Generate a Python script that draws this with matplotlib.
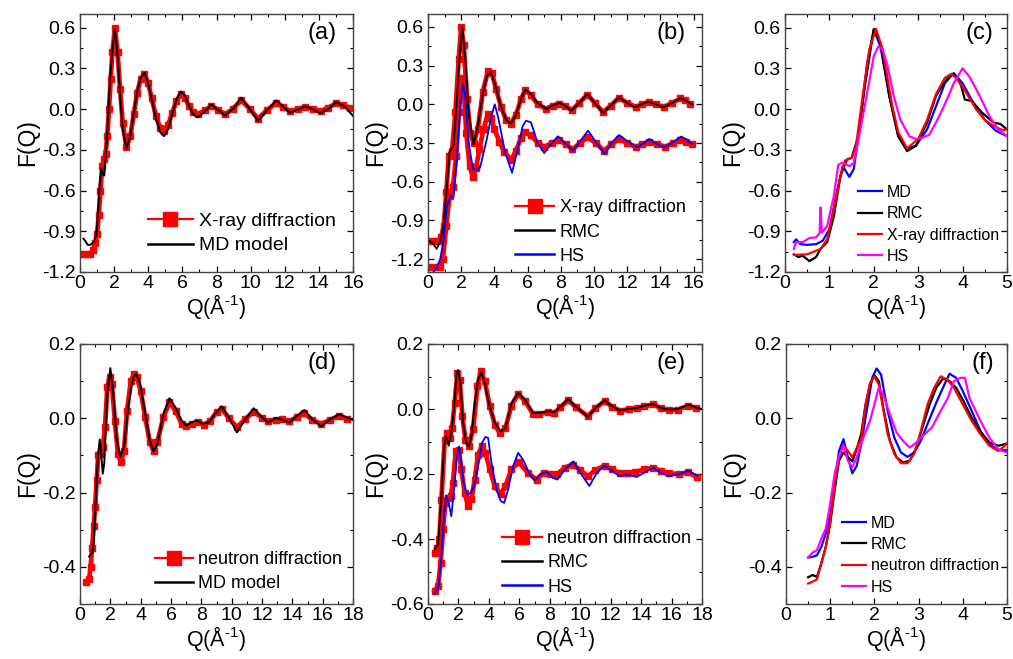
import matplotlib
matplotlib.use("Agg")
import matplotlib.pyplot as plt
from matplotlib.lines import Line2D
from matplotlib.ticker import MultipleLocator, FormatStrFormatter

plt.rcParams['font.family'] = ['Liberation Sans', 'DejaVu Sans']
plt.rcParams['mathtext.fontset'] = 'custom'
plt.rcParams['mathtext.rm'] = 'Liberation Sans'
plt.rcParams['mathtext.default'] = 'regular'

# ---- panel (a): X-ray diffraction vs MD model ----
q_a_xray = [0.05, 0.3, 0.6, 0.75, 0.9, 1.0, 1.1, 1.2, 1.3, 1.4, 1.5, 1.6, 1.7, 1.8, 1.9, 2.05, 2.2, 2.35, 2.5,
            2.72, 2.95, 3.15, 3.35, 3.55, 3.78, 4.0, 4.2, 4.45, 4.7, 4.9, 5.15, 5.4, 5.65, 5.9, 6.15, 6.4, 6.65,
            6.9, 7.3, 7.7, 8.1, 8.5, 8.95, 9.45, 9.95, 10.43, 10.95, 11.5, 11.9, 12.3, 12.75, 13.2, 13.65, 14.1,
            14.55, 15.0, 15.4, 15.8]
f_a_xray = [-1.065, -1.07, -1.065, -1.04, -0.99, -0.92, -0.78, -0.6, -0.42, -0.37, -0.33, -0.2, 0.0, 0.22, 0.42,
            0.6, 0.42, 0.15, -0.1, -0.28, -0.2, -0.04, 0.12, 0.22, 0.255, 0.19, 0.08, -0.05, -0.14, -0.16, -0.12,
            -0.03, 0.06, 0.108, 0.08, 0.02, -0.025, -0.04, -0.01, 0.022, -0.005, -0.04, 0.0, 0.066, 0.0, -0.07,
            -0.01, 0.047, 0.015, -0.015, 0.0, 0.017, 0.0, -0.015, 0.01, 0.042, 0.03, 0.01]
q_a_md = [0.2, 0.3, 0.45, 0.6, 0.8, 0.95, 1.05, 1.15, 1.25, 1.35, 1.42, 1.5, 1.6, 1.75, 1.9, 2.05, 2.2, 2.35, 2.5,
          2.72, 2.95, 3.15, 3.35, 3.55, 3.78, 4.0, 4.2, 4.45, 4.7, 4.92, 5.15, 5.4, 5.65, 5.9, 6.15, 6.4, 6.65,
          6.9, 7.3, 7.7, 8.1, 8.48, 8.95, 9.45, 9.95, 10.43, 10.95, 11.5, 11.9, 12.3, 12.75, 13.22, 13.65, 14.08,
          14.55, 15.02, 15.5, 16.0]
f_a_md = [-0.955, -0.97, -1.0, -1.0, -0.98, -0.93, -0.78, -0.56, -0.44, -0.48, -0.49, -0.35, -0.17, 0.2, 0.44,
          0.59, 0.39, 0.1, -0.15, -0.29, -0.2, -0.03, 0.13, 0.23, 0.267, 0.19, 0.07, -0.07, -0.17, -0.2, -0.15,
          -0.04, 0.07, 0.13, 0.1, 0.02, -0.04, -0.06, -0.02, 0.034, -0.005, -0.047, 0.0, 0.083, 0.0, -0.088,
          -0.01, 0.064, 0.02, -0.027, -0.005, 0.022, -0.002, -0.032, 0.0, 0.051, 0.02, -0.05]

# ---- panel (b): X-ray, RMC, HS ----
q_b_xray = [0.0, 0.3, 0.6, 0.8, 0.95, 1.1, 1.25, 1.45, 1.65, 1.85, 2.0, 2.15, 2.35, 2.55, 2.75, 3.0, 3.3, 3.6,
            3.85, 4.1, 4.4, 4.7, 4.99, 5.3, 5.6, 5.86, 6.2, 6.6, 7.1, 7.5, 7.9, 8.25, 8.65, 9.1, 9.6, 10.05,
            10.55, 11.0, 11.5, 12.0, 12.5, 12.9, 13.3, 13.7, 14.2, 14.7, 15.2, 15.5, 15.8]
f_b_xray = [-1.063, -1.063, -1.06, -1.03, -0.94, -0.68, -0.4, -0.36, -0.06, 0.35, 0.6, 0.46, 0.04, -0.22, -0.3,
            -0.19, 0.095, 0.255, 0.24, 0.12, -0.02, -0.12, -0.15, -0.08, 0.04, 0.11, 0.07, 0.0, -0.035, -0.01,
            0.005, -0.015, -0.045, 0.01, 0.075, 0.01, -0.06, -0.01, 0.05, 0.01, -0.02, 0.0, 0.02, 0.0, -0.02,
            0.01, 0.045, 0.03, 0.0]
q_b_rmc = [0.1, 0.3, 0.52, 0.72, 0.94, 1.14, 1.3, 1.54, 1.74, 1.86, 2.06, 2.26, 2.46, 2.74, 3.0, 3.3, 3.55, 3.78,
           4.05, 4.35, 4.7, 4.99, 5.3, 5.6, 5.86, 6.2, 6.6, 7.15, 7.5, 7.92, 8.25, 8.63, 9.1, 9.58, 10.05, 10.55,
           11.0, 11.5, 12.0, 12.46, 12.85, 13.27, 13.7, 14.18, 14.7, 15.2, 15.5, 15.9]
f_b_rmc = [-1.06, -1.08, -1.12, -1.07, -0.94, -0.63, -0.37, -0.32, 0.04, 0.3, 0.6, 0.33, -0.09, -0.31, -0.17,
           0.08, 0.22, 0.25, 0.15, 0.0, -0.12, -0.15, -0.08, 0.04, 0.114, 0.08, 0.01, -0.036, -0.01, 0.01, -0.01,
           -0.05, 0.01, 0.08, 0.01, -0.067, -0.01, 0.054, 0.01, -0.023, 0.0, 0.02, 0.0, -0.023, 0.01, 0.047,
           0.03, 0.0]
q_b_xray2 = [0.0, 0.4, 0.75, 0.9, 1.1, 1.3, 1.5, 1.7, 1.85, 2.0, 2.15, 2.3, 2.5, 2.7, 2.9, 3.1, 3.35, 3.6, 3.8,
             4.0, 4.3, 4.6, 5.0, 5.3, 5.6, 5.86, 6.2, 6.6, 7.0, 7.45, 7.9, 8.3, 8.7, 9.15, 9.6, 10.1, 10.6,
             11.05, 11.5, 12.0, 12.5, 12.9, 13.3, 13.8, 14.3, 14.75, 15.2, 15.55, 15.9]
f_b_xray2 = [-1.265, -1.265, -1.26, -1.2, -0.94, -0.71, -0.64, -0.4, -0.06, 0.2, 0.15, -0.22, -0.475, -0.565,
             -0.49, -0.345, -0.19, -0.075, -0.11, -0.19, -0.29, -0.37, -0.43, -0.36, -0.26, -0.217, -0.24, -0.3,
             -0.33, -0.3, -0.28, -0.31, -0.35, -0.3, -0.256, -0.3, -0.36, -0.31, -0.27, -0.3, -0.33, -0.31,
             -0.29, -0.31, -0.33, -0.3, -0.28, -0.29, -0.31]
q_b_hs = [0.2, 0.5, 0.74, 0.94, 1.14, 1.38, 1.54, 1.74, 1.94, 2.1, 2.24, 2.44, 2.7, 2.94, 3.14, 3.54, 3.78, 4.02,
          4.24, 4.64, 5.06, 5.4, 5.7, 5.9, 6.2, 6.6, 7.0, 7.4, 7.82, 8.25, 8.73, 9.2, 9.64, 10.15, 10.65, 11.05,
          11.5, 12.05, 12.6, 13.0, 13.33, 13.8, 14.2, 14.7, 15.23, 15.55, 15.9]
f_b_hs = [-1.32, -1.27, -1.2, -1.045, -0.786, -0.71, -0.72, -0.42, -0.035, 0.16, 0.07, -0.29, -0.5, -0.51,
          -0.49, -0.27, -0.11, 0.0, -0.11, -0.37, -0.53, -0.35, -0.17, -0.127, -0.14, -0.3, -0.378, -0.31,
          -0.248, -0.3, -0.36, -0.28, -0.204, -0.3, -0.385, -0.3, -0.238, -0.29, -0.334, -0.3, -0.269, -0.31,
          -0.334, -0.3, -0.25, -0.27, -0.308]

# ---- panel (c): low-Q detail, X-ray ----
q_c_md = [0.2, 0.25, 0.35, 0.5, 0.7, 0.85, 1.0, 1.15, 1.3, 1.45, 1.55, 1.7, 1.85, 2.0, 2.15, 2.35, 2.55, 2.75,
          2.95, 3.2, 3.4, 3.6, 3.8, 4.0, 4.2, 4.5, 4.75, 5.0]
f_c_md = [-0.98, -0.96, -0.995, -1.0, -0.995, -0.97, -0.885, -0.64, -0.42, -0.5, -0.44, -0.08, 0.34, 0.585,
          0.46, 0.095, -0.2, -0.29, -0.27, -0.15, 0.02, 0.19, 0.265, 0.19, 0.07, -0.08, -0.16, -0.2]
q_c_rmc = [0.2, 0.3, 0.4, 0.55, 0.7, 0.8, 0.95, 1.1, 1.25, 1.4, 1.5, 1.65, 1.8, 2.0, 2.15, 2.35, 2.55, 2.75,
           2.95, 3.2, 3.4, 3.55, 3.7, 3.8, 3.95, 4.05, 4.2, 4.45, 4.7, 4.85, 5.0]
f_c_rmc = [-1.07, -1.09, -1.08, -1.12, -1.09, -1.03, -0.98, -0.79, -0.49, -0.37, -0.36, -0.2, 0.17, 0.59, 0.49,
           0.095, -0.2, -0.31, -0.27, -0.1, 0.095, 0.18, 0.24, 0.255, 0.19, 0.07, 0.06, -0.03, -0.1, -0.11,
           -0.15]
q_c_xray = [0.2, 0.5, 0.8, 0.95, 1.1, 1.25, 1.35, 1.5, 1.6, 1.75, 1.9, 2.05, 2.2, 2.4, 2.55, 2.75, 3.0, 3.2,
            3.4, 3.6, 3.75, 3.9, 4.1, 4.3, 4.5, 4.7, 4.9, 5.0]
f_c_xray = [-1.074, -1.07, -1.03, -0.96, -0.74, -0.49, -0.38, -0.36, -0.27, 0.095, 0.44, 0.59, 0.44, 0.05,
            -0.17, -0.29, -0.22, -0.08, 0.11, 0.23, 0.26, 0.21, 0.11, 0.0, -0.08, -0.125, -0.155, -0.15]
q_c_hs = [0.2, 0.25, 0.4, 0.55, 0.7, 0.78, 0.8, 0.83, 0.95, 1.1, 1.2, 1.3, 1.45, 1.55, 1.7, 1.85, 2.0, 2.1, 2.2,
          2.3, 2.45, 2.6, 2.8, 2.95, 3.1, 3.25, 3.4, 3.55, 3.7, 3.8, 4.0, 4.15, 4.35, 4.6, 4.8, 5.0]
f_c_hs = [-1.03, -0.98, -0.98, -0.95, -0.945, -0.915, -0.725, -0.91, -0.86, -0.64, -0.41, -0.395, -0.42,
          -0.395, -0.15, 0.12, 0.39, 0.46, 0.44, 0.33, 0.095, -0.08, -0.2, -0.22, -0.21, -0.19, -0.1, 0.0, 0.11,
          0.19, 0.3, 0.24, 0.12, -0.05, -0.15, -0.2]

# ---- panel (d): neutron diffraction vs MD model ----
q_d_neu = [0.4, 0.6, 0.7, 0.8, 0.9, 1.0, 1.1, 1.2, 1.35, 1.5, 1.65, 1.8, 1.95, 2.1, 2.3, 2.5, 2.7, 2.9, 3.1,
           3.35, 3.55, 3.75, 4.0, 4.3, 4.6, 4.85, 5.1, 5.5, 5.9, 6.3, 6.7, 7.0, 7.4, 7.8, 8.2, 8.6, 9.0, 9.35,
           9.8, 10.35, 10.9, 11.45, 12.0, 12.4, 12.9, 13.3, 13.8, 14.3, 14.8, 15.3, 15.9, 16.5, 17.1, 17.6]
f_d_neu = [-0.44, -0.433, -0.4, -0.35, -0.29, -0.238, -0.167, -0.1, -0.095, -0.078, -0.024, 0.083, 0.112, 0.092,
           -0.006, -0.096, -0.118, -0.087, 0.02, 0.1, 0.119, 0.112, 0.074, 0.003, -0.064, -0.087, -0.064, 0.003,
           0.043, 0.02, -0.015, -0.022, -0.015, -0.011, -0.017, -0.006, 0.016, 0.025, 0.001, -0.024, -0.002,
           0.018, 0.001, -0.008, -0.004, -0.002, -0.008, 0.003, 0.013, -0.004, -0.015, -0.004, 0.007, -0.002]
q_d_md = [0.6, 0.8, 0.9, 1.0, 1.1, 1.2, 1.3, 1.4, 1.5, 1.6, 1.8, 2.0, 2.2, 2.4, 2.65, 2.9, 3.2, 3.5, 3.7, 3.95,
          4.3, 4.6, 4.85, 5.1, 5.5, 5.9, 6.3, 6.7, 7.0, 7.35, 7.7, 8.1, 8.5, 8.9, 9.35, 9.8, 10.35, 10.9, 11.45,
          12.0, 12.4, 12.9, 13.2, 13.8, 14.3, 14.8, 15.3, 15.9, 16.5, 17.1, 18.0]
f_d_md = [-0.372, -0.363, -0.337, -0.256, -0.167, -0.096, -0.057, -0.096, -0.149, -0.122, 0.065, 0.135, 0.065,
          -0.051, -0.104, -0.078, 0.038, 0.11, 0.119, 0.096, 0.012, -0.06, -0.089, -0.069, 0.012, 0.054, 0.029,
          -0.006, -0.02, -0.011, -0.006, -0.015, -0.011, 0.012, 0.032, 0.003, -0.038, -0.002, 0.027, 0.003,
          -0.011, 0.001, -0.002, -0.011, 0.007, 0.022, -0.002, -0.022, -0.002, 0.011, -0.005]

# ---- panel (e): neutron, RMC, HS ----
q_e_neu = [0.44, 0.62, 0.75, 0.88, 1.1, 1.27, 1.43, 1.58, 1.75, 1.93, 2.08, 2.26, 2.46, 2.68, 2.96, 3.25, 3.46,
           3.73, 4.06, 4.39, 4.71, 5.09, 5.48, 5.92, 6.36, 6.9, 7.3, 7.9, 8.3, 8.7, 9.2, 9.7, 10.5, 11.0, 11.6,
           12.1, 12.6, 13.2, 13.7, 14.2, 14.8, 15.3, 15.8, 16.4, 17.1, 17.6]
f_e_neu = [-0.442, -0.427, -0.4, -0.28, -0.094, -0.074, -0.089, -0.058, 0.018, 0.11, 0.09, -0.023, -0.094,
           -0.113, -0.063, 0.07, 0.116, 0.085, 0.008, -0.048, -0.074, -0.058, 0.01, 0.047, 0.025, -0.015,
           -0.015, -0.01, -0.012, 0.005, 0.027, 0.006, -0.022, 0.002, 0.024, 0.007, -0.005, -0.001, 0.002,
           0.008, 0.014, 0.002, -0.004, -0.002, 0.01, 0.003]
q_e_rmc = [0.44, 0.66, 0.88, 1.05, 1.2, 1.36, 1.53, 1.71, 1.86, 1.97, 2.13, 2.3, 2.52, 2.68, 2.85, 3.07, 3.29,
           3.5, 3.73, 3.99, 4.39, 4.78, 5.09, 5.48, 5.92, 6.36, 6.9, 7.3, 7.9, 8.3, 8.7, 9.2, 9.7, 10.5, 11.0,
           11.6, 12.1, 12.6, 13.2, 13.7, 14.2, 14.8, 15.3, 15.8, 16.4, 17.1, 17.6, 18.0]
f_e_rmc = [-0.43, -0.417, -0.27, -0.115, -0.084, -0.113, -0.074, 0.0, 0.105, 0.12, 0.08, -0.043, -0.106, -0.115,
           -0.084, 0.018, 0.09, 0.113, 0.08, 0.018, -0.043, -0.069, -0.058, 0.018, 0.049, 0.029, -0.012, -0.012,
           -0.007, -0.01, 0.008, 0.031, 0.008, -0.025, 0.003, 0.027, 0.008, -0.004, 0.0, 0.003, 0.01, 0.016,
           0.003, -0.002, 0.0, 0.013, 0.005, 0.0]
q_e_neu2 = [0.44, 0.66, 0.83, 0.99, 1.14, 1.32, 1.49, 1.64, 1.82, 2.02, 2.19, 2.41, 2.63, 2.85, 3.07, 3.29, 3.55,
            3.77, 4.06, 4.39, 4.78, 5.09, 5.48, 5.96, 6.58, 7.13, 7.6, 8.0, 8.5, 9.0, 9.5, 10.0, 10.5, 11.0,
            11.6, 12.1, 12.6, 13.1, 13.6, 14.2, 14.8, 15.3, 15.8, 16.5, 17.1, 17.7]
f_e_neu2 = [-0.56, -0.545, -0.473, -0.37, -0.289, -0.273, -0.268, -0.227, -0.13, -0.125, -0.186, -0.258,
            -0.299, -0.278, -0.217, -0.14, -0.113, -0.135, -0.186, -0.237, -0.263, -0.237, -0.186, -0.164,
            -0.197, -0.217, -0.196, -0.2, -0.2, -0.18, -0.171, -0.188, -0.207, -0.188, -0.174, -0.186, -0.198,
            -0.196, -0.194, -0.186, -0.181, -0.191, -0.198, -0.2, -0.195, -0.21]
q_e_hs = [0.44, 0.7, 0.88, 1.05, 1.2, 1.36, 1.53, 1.71, 1.91, 2.04, 2.19, 2.37, 2.59, 2.81, 3.07, 3.29, 3.55,
          3.77, 3.95, 4.17, 4.5, 4.78, 5.0, 5.26, 5.59, 5.92, 6.25, 6.69, 7.0, 7.4, 7.8, 8.2, 8.5, 9.0, 9.55,
          10.0, 10.6, 11.1, 11.6, 12.1, 12.6, 13.1, 13.7, 14.2, 14.8, 15.3, 15.8, 16.5, 17.1, 17.7]
f_e_hs = [-0.57, -0.545, -0.452, -0.33, -0.266, -0.289, -0.33, -0.248, -0.145, -0.115, -0.166, -0.237, -0.263,
          -0.258, -0.232, -0.176, -0.104, -0.086, -0.089, -0.166, -0.248, -0.283, -0.289, -0.248, -0.176,
          -0.135, -0.156, -0.202, -0.22, -0.2, -0.194, -0.212, -0.217, -0.186, -0.161, -0.196, -0.237, -0.196,
          -0.174, -0.191, -0.207, -0.202, -0.209, -0.196, -0.181, -0.196, -0.207, -0.2, -0.19, -0.205]

# ---- panel (f): low-Q detail, neutron ----
q_f_md = [0.5, 0.6, 0.7, 0.8, 0.9, 1.0, 1.1, 1.2, 1.3, 1.4, 1.5, 1.6, 1.7, 1.85, 1.95, 2.05, 2.15, 2.3, 2.45,
          2.6, 2.75, 2.9, 3.05, 3.2, 3.4, 3.55, 3.7, 3.85, 4.0, 4.2, 4.4, 4.6, 4.8, 5.0]
f_f_md = [-0.375, -0.373, -0.369, -0.346, -0.31, -0.257, -0.177, -0.088, -0.056, -0.105, -0.148, -0.128, -0.07,
          0.037, 0.109, 0.134, 0.118, 0.02, -0.052, -0.092, -0.104, -0.092, -0.061, -0.016, 0.042, 0.082, 0.12,
          0.109, 0.073, 0.02, -0.034, -0.07, -0.086, -0.086]
q_f_rmc = [0.5, 0.6, 0.7, 0.8, 0.9, 1.0, 1.1, 1.2, 1.3, 1.4, 1.5, 1.6, 1.7, 1.8, 1.9, 2.0, 2.1, 2.2, 2.35, 2.5,
           2.65, 2.8, 2.95, 3.1, 3.25, 3.4, 3.55, 3.7, 3.85, 4.0, 4.2, 4.4, 4.6, 4.8, 5.0]
f_f_rmc = [-0.428, -0.422, -0.427, -0.39, -0.346, -0.284, -0.195, -0.114, -0.092, -0.105, -0.116, -0.083,
           -0.043, 0.037, 0.091, 0.116, 0.1, 0.029, -0.061, -0.105, -0.119, -0.114, -0.079, -0.02, 0.037, 0.082,
           0.107, 0.1, 0.082, 0.05, 0.002, -0.036, -0.065, -0.074, -0.068]
q_f_neu = [0.5, 0.6, 0.7, 0.8, 0.9, 1.0, 1.1, 1.2, 1.3, 1.4, 1.5, 1.6, 1.7, 1.8, 1.9, 2.0, 2.1, 2.2, 2.3, 2.45,
           2.6, 2.75, 2.9, 3.05, 3.2, 3.35, 3.5, 3.65, 3.8, 4.0, 4.2, 4.4, 4.6, 4.8, 4.9, 5.0]
f_f_neu = [-0.445, -0.44, -0.434, -0.39, -0.346, -0.28, -0.177, -0.105, -0.072, -0.088, -0.105, -0.08, -0.056,
           0.037, 0.095, 0.113, 0.09, 0.024, -0.043, -0.096, -0.121, -0.121, -0.096, -0.034, 0.037, 0.082,
           0.113, 0.104, 0.082, 0.037, -0.007, -0.043, -0.074, -0.088, -0.079, -0.068]
q_f_hs = [0.5, 0.6, 0.7, 0.8, 0.9, 1.0, 1.1, 1.2, 1.3, 1.4, 1.5, 1.6, 1.75, 1.9, 2.0, 2.1, 2.2, 2.35, 2.5, 2.65,
          2.8, 2.95, 3.1, 3.3, 3.5, 3.65, 3.8, 3.95, 4.05, 4.15, 4.4, 4.6, 4.8, 5.0]
f_f_hs = [-0.375, -0.362, -0.355, -0.324, -0.297, -0.23, -0.15, -0.1, -0.074, -0.114, -0.132, -0.105, -0.052,
          -0.007, 0.037, 0.084, 0.064, 0.011, -0.038, -0.061, -0.079, -0.065, -0.047, -0.025, 0.02, 0.051, 0.1,
          0.109, 0.109, 0.055, -0.007, -0.052, -0.083, -0.092]

RED = '#ff0000'
BLUE = '#0000ff'
MAG = '#ff00ff'
QLABEL = 'Q(Å$^{\\text{-1}}$)'


def style(ax, xlim, ylim, xmaj, xmin, ymaj, ymin, tag):
    ax.set_xlim(*xlim)
    ax.set_ylim(*ylim)
    ax.xaxis.set_major_locator(MultipleLocator(xmaj))
    ax.xaxis.set_minor_locator(MultipleLocator(xmin))
    ax.yaxis.set_major_locator(MultipleLocator(ymaj))
    ax.yaxis.set_minor_locator(MultipleLocator(ymin))
    ax.yaxis.set_major_formatter(FormatStrFormatter('%.1f'))
    ax.tick_params(which='both', direction='in', top=True, right=True, labelsize=14)
    ax.tick_params(axis='x', pad=2)
    ax.tick_params(axis='y', pad=3)
    ax.tick_params(which='major', length=4.5, width=0.9)
    ax.tick_params(which='minor', length=2.5, width=0.8)
    for s in ax.spines.values():
        s.set_color('#444444')
        s.set_linewidth(1.0)
    ax.set_xlabel(QLABEL, fontsize=15.5, labelpad=0)
    ax.set_ylabel('F(Q)', fontsize=16.5, labelpad=2)
    ax.text(0.94, 0.925, tag, transform=ax.transAxes, ha='right', va='center', fontsize=17)


def red_dots(ax, q, f):
    ax.plot(q, f, color=RED, lw=3.4, marker='s', ms=3.8, mec=RED, mfc=RED, zorder=2)


def red_handle():
    return Line2D([], [], color=RED, lw=1.6, marker='s', ms=10)


def line_handle(c):
    return Line2D([], [], color=c, lw=1.8)


fig = plt.figure(figsize=(10.13, 6.59), dpi=100)
W, H = 1013.0, 659.0


def make_axes(l, r, t, b):
    return fig.add_axes([l / W, 1 - b / H, (r - l) / W, (b - t) / H])


ax_a = make_axes(80, 353, 14, 272)
ax_b = make_axes(428, 702, 14, 272)
ax_c = make_axes(785, 1007, 14, 272)
ax_d = make_axes(80, 353, 344, 604)
ax_e = make_axes(428, 702, 344, 604)
ax_f = make_axes(786, 1007, 344, 604)

# (a)
red_dots(ax_a, q_a_xray, f_a_xray)
ax_a.plot(q_a_md, f_a_md, color='black', lw=1.4, zorder=3)
style(ax_a, (0, 16), (-1.2, 0.7), 2, 1, 0.3, 0.15, '(a)')
ax_a.legend([red_handle(), line_handle('black')], ['X-ray diffraction', 'MD model'],
            loc='lower right', bbox_to_anchor=(1.0, 0.0), frameon=False, fontsize=14, handlelength=2.3,
            handletextpad=0.3, labelspacing=0.35)

# (b)
red_dots(ax_b, q_b_xray, f_b_xray)
red_dots(ax_b, q_b_xray2, f_b_xray2)
ax_b.plot(q_b_rmc, f_b_rmc, color='black', lw=1.3, zorder=3)
ax_b.plot(q_b_hs, f_b_hs, color=BLUE, lw=1.3, zorder=3)
style(ax_b, (0, 16.5), (-1.3, 0.7), 2, 1, 0.3, 0.15, '(b)')
ax_b.legend([red_handle(), line_handle('black'), line_handle(BLUE)],
            ['X-ray diffraction', 'RMC', 'HS'], loc='lower right', bbox_to_anchor=(1.0, -0.035),
            frameon=False, fontsize=13, handlelength=2.2, handletextpad=0.3, labelspacing=0.4)

# (c)
ax_c.plot(q_c_md, f_c_md, color=BLUE, lw=1.6, label='MD')
ax_c.plot(q_c_rmc, f_c_rmc, color='black', lw=1.6, label='RMC')
ax_c.plot(q_c_xray, f_c_xray, color=RED, lw=1.6, label='X-ray diffraction')
ax_c.plot(q_c_hs, f_c_hs, color=MAG, lw=1.6, label='HS')
style(ax_c, (0, 5), (-1.2, 0.7), 1, 0.5, 0.3, 0.15, '(c)')
ax_c.legend(loc='lower right', bbox_to_anchor=(1.03, -0.025), frameon=False, fontsize=11.5, handlelength=1.5,
            handletextpad=0.3, labelspacing=0.4)

# (d)
red_dots(ax_d, q_d_neu, f_d_neu)
ax_d.plot(q_d_md, f_d_md, color='black', lw=1.4, zorder=3)
style(ax_d, (0, 18), (-0.5, 0.2), 2, 1, 0.2, 0.1, '(d)')
ax_d.legend([red_handle(), line_handle('black')], ['neutron diffraction', 'MD model'],
            loc='lower right', bbox_to_anchor=(1.02, -0.017), frameon=False, fontsize=13, handlelength=2.1,
            handletextpad=0.3, labelspacing=0.4)

# (e)
red_dots(ax_e, q_e_neu, f_e_neu)
red_dots(ax_e, q_e_neu2, f_e_neu2)
ax_e.plot(q_e_rmc, f_e_rmc, color='black', lw=1.3, zorder=3)
ax_e.plot(q_e_hs, f_e_hs, color=BLUE, lw=1.3, zorder=3)
style(ax_e, (0, 18), (-0.6, 0.2), 2, 1, 0.2, 0.1, '(e)')
ax_e.legend([red_handle(), line_handle('black'), line_handle(BLUE)],
            ['neutron diffraction', 'RMC', 'HS'], loc='lower right', bbox_to_anchor=(1.02, -0.03),
            frameon=False, fontsize=13, handlelength=2.2, handletextpad=0.3, labelspacing=0.4)

# (f)
ax_f.plot(q_f_md, f_f_md, color=BLUE, lw=1.6, label='MD')
ax_f.plot(q_f_rmc, f_f_rmc, color='black', lw=1.6, label='RMC')
ax_f.plot(q_f_neu, f_f_neu, color=RED, lw=1.6, label='neutron diffraction')
ax_f.plot(q_f_hs, f_f_hs, color=MAG, lw=1.6, label='HS')
style(ax_f, (0, 5), (-0.5, 0.2), 1, 0.5, 0.2, 0.1, '(f)')
ax_f.legend(loc='lower right', bbox_to_anchor=(1.03, -0.02), frameon=False, fontsize=11.5, handlelength=1.5,
            handletextpad=0.3, labelspacing=0.4)

fig.savefig('out.png', dpi=100)
